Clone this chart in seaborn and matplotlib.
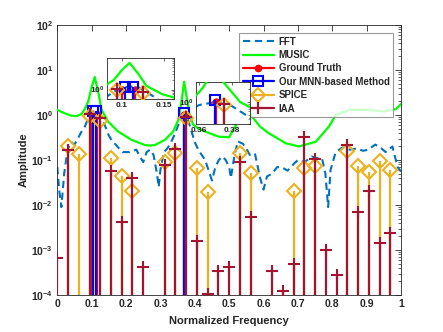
import numpy as np
import matplotlib
matplotlib.use('Agg')
import matplotlib.pyplot as plt
from matplotlib.lines import Line2D
from matplotlib.ticker import LogLocator, LogFormatterSciNotation, NullFormatter
import seaborn as sns

# FFT spectrum
fft_freq = [0.000, 0.006, 0.012, 0.020, 0.030, 0.040, 0.050, 0.060, 0.070, 0.080,
            0.090, 0.100, 0.110, 0.120, 0.130, 0.140, 0.150, 0.160, 0.170, 0.180,
            0.190, 0.200, 0.210, 0.220, 0.230, 0.240, 0.250, 0.260, 0.270, 0.280,
            0.290, 0.295, 0.300, 0.310, 0.320, 0.330, 0.340, 0.350, 0.360, 0.370,
            0.380, 0.390, 0.400, 0.410, 0.420, 0.430, 0.440, 0.450, 0.460, 0.470,
            0.480, 0.490, 0.500, 0.505, 0.515, 0.525, 0.540, 0.550, 0.560, 0.575,
            0.590, 0.600, 0.610, 0.625, 0.640, 0.655, 0.670, 0.690, 0.700, 0.720,
            0.740, 0.755, 0.770, 0.780, 0.788, 0.795, 0.810, 0.830, 0.850, 0.870,
            0.890, 0.905, 0.925, 0.940, 0.955, 0.975, 0.990, 1.000]
fft_amp = [0.07, 0.02, 0.009, 0.05, 0.17, 0.25, 0.22, 0.30, 0.42, 0.55,
           0.85, 1.15, 1.25, 1.15, 0.80, 0.55, 0.35, 0.26, 0.22, 0.18,
           0.15, 0.15, 0.15, 0.16, 0.17, 0.12, 0.09, 0.15, 0.17, 0.13,
           0.05, 0.025, 0.06, 0.15, 0.18, 0.24, 0.35, 0.55, 0.85, 1.0,
           0.80, 0.45, 0.25, 0.17, 0.13, 0.10, 0.06, 0.035, 0.07, 0.10,
           0.12, 0.10, 0.07, 0.04, 0.12, 0.26, 0.23, 0.18, 0.13, 0.14,
           0.04, 0.022, 0.043, 0.05, 0.07, 0.068, 0.058, 0.085, 0.10, 0.09,
           0.12, 0.11, 0.11, 0.05, 0.009, 0.06, 0.15, 0.19, 0.17, 0.18,
           0.16, 0.17, 0.22, 0.19, 0.15, 0.20, 0.07, 0.055]

# MUSIC pseudo-spectrum
music_freq = [0.000, 0.020, 0.040, 0.055, 0.070, 0.080, 0.090, 0.100, 0.109, 0.120,
              0.129, 0.148, 0.177, 0.216, 0.255, 0.270, 0.284, 0.313, 0.337, 0.352,
              0.362, 0.369, 0.376, 0.385, 0.395, 0.410, 0.440, 0.470, 0.500, 0.520,
              0.540, 0.550, 0.563, 0.590, 0.616, 0.665, 0.703, 0.752, 0.790, 0.810,
              0.850, 0.900, 0.950, 0.985, 1.000]
music_amp = [1.30, 1.10, 0.97, 0.94, 1.05, 1.35, 2.0, 4.2, 7.0, 3.0,
             1.3, 0.71, 0.43, 0.28, 0.215, 0.21, 0.215, 0.28, 0.43, 0.77,
             2.15, 5.5, 2.6, 1.0, 0.62, 0.50, 0.40, 0.33, 0.32, 0.6,
             1.6, 1.5, 1.0, 0.55, 0.39, 0.235, 0.20, 0.255, 0.55, 1.0,
             1.3, 1.3, 1.2, 1.35, 1.75]

# ground truth and MNN estimate
truth_freq = [0.100, 0.115, 0.370]
truth_amp = [1.0, 1.0, 1.0]
mnn_freq = [0.103, 0.113, 0.3695]
mnn_amp = [1.2, 1.2, 1.12]

# SPICE / IAA grid
grid_freq = [0.0, 0.03125, 0.0625, 0.09375, 0.125, 0.15625, 0.1875, 0.21875,
             0.25, 0.28125, 0.3125, 0.34375, 0.375, 0.40625, 0.4375, 0.46875,
             0.5, 0.53125, 0.5625, 0.59375, 0.625, 0.65625, 0.6875, 0.71875,
             0.75, 0.78125, 0.8125, 0.84375, 0.875, 0.90625, 0.9375, 0.96875]
spice_amp = [1e-6, 0.21, 0.135, 0.95, 0.75, 0.11, 0.044, 0.02,
             1e-6, 1e-6, 0.092, 0.145, 0.85, 0.065, 0.019, 1e-6,
             1e-6, 0.145, 0.051, 1e-6, 1e-6, 1e-6, 0.02, 0.065,
             0.074, 1e-6, 1e-6, 0.16, 0.074, 0.053, 0.094, 0.06]
iaa_amp = [6.6e-4, 0.17, 1e-6, 1.05, 0.85, 0.058, 0.0042, 0.039,
           4.1e-4, 1e-6, 0.077, 0.18, 0.9, 0.0016, 1.05e-4, 3.5e-4,
           4.3e-4, 0.092, 0.0055, 1e-6, 3.4e-4, 1.2e-4, 5e-4, 0.33,
           0.105, 1.0e-3, 2.8e-4, 0.22, 0.0069, 0.021, 0.0014, 0.0024]

x_ticks = [0, 0.1, 0.2, 0.3, 0.4, 0.5, 0.6, 0.7, 0.8, 0.9, 1]
x_ticklabels = ['0', '0.1', '0.2', '0.3', '0.4', '0.5', '0.6', '0.7', '0.8', '0.9', '1']
y_ticks = [1e-4, 1e-3, 1e-2, 1e-1, 1e0, 1e1, 1e2]

C_FFT = '#0072BD'
C_MUSIC = '#00FF00'
C_TRUTH = '#FF0000'
C_MNN = '#0000FF'
C_SPICE = '#EDB120'
C_IAA = '#A2142F'

sns.set_theme(style='white')
plt.rcParams['font.family'] = ['Liberation Sans', 'DejaVu Sans']
plt.rcParams['font.weight'] = 'bold'
plt.rcParams['mathtext.fontset'] = 'custom'
plt.rcParams['mathtext.rm'] = 'Liberation Sans:bold'
plt.rcParams['mathtext.bf'] = 'Liberation Sans:bold'
plt.rcParams['mathtext.default'] = 'bf'
plt.rcParams['axes.edgecolor'] = '#262626'
plt.rcParams['axes.linewidth'] = 0.6
plt.rcParams['xtick.color'] = '#262626'
plt.rcParams['ytick.color'] = '#262626'


def draw_stems(ax, freq, amp, color, marker, ms, mfc, z):
    ax.vlines(freq, 1e-8, amp, colors=color, lw=1.6, zorder=z)
    ax.plot(freq, amp, ls='none', marker=marker, ms=ms, mec=color, mfc=mfc,
            mew=1.5, zorder=z + 0.5)


def draw_all(ax):
    sns.lineplot(x=fft_freq, y=fft_amp, ax=ax, color=C_FFT, lw=1.5,
                 linestyle=(0, (3.5, 2.2)), zorder=2)
    sns.lineplot(x=music_freq, y=music_amp, ax=ax, color=C_MUSIC, lw=1.6, zorder=3)
    draw_stems(ax, truth_freq, truth_amp, C_TRUTH, 'o', 4.5, C_TRUTH, 4)
    draw_stems(ax, mnn_freq, mnn_amp, C_MNN, 's', 7, 'none', 5)
    draw_stems(ax, grid_freq, spice_amp, C_SPICE, 'D', 7.5, 'none', 6)
    draw_stems(ax, grid_freq, iaa_amp, C_IAA, '+', 9, C_IAA, 7)
    ax.set_yscale('log')
    ax.set_xlabel('')
    ax.set_ylabel('')
    ax.tick_params(which='both', direction='in', top=True, right=True)
    ax.yaxis.set_minor_locator(LogLocator(base=10, subs=np.arange(2, 10), numticks=20))
    ax.yaxis.set_minor_formatter(NullFormatter())


fig = plt.figure(figsize=(4.43, 3.32), dpi=100)
ax = fig.add_axes([0.1293, 0.1114, 0.7759, 0.8133])
draw_all(ax)
ax.set_xlim(0, 1)
ax.set_ylim(1e-4, 1e2)
ax.set_xticks(x_ticks)
ax.set_xticklabels(x_ticklabels)
ax.set_yticks(y_ticks)
ax.yaxis.set_major_formatter(LogFormatterSciNotation())
ax.tick_params(which='major', length=4, width=0.6, labelsize=7.5, pad=3)
ax.tick_params(which='minor', length=2, width=0.5)
ax.set_xlabel('Normalized Frequency', fontsize=8, fontweight='bold', labelpad=5)
ax.set_ylabel('Amplitude', fontsize=8, fontweight='bold', labelpad=2)

handles = [
    Line2D([], [], color=C_FFT, lw=1.5, linestyle=(0, (3.5, 2.2))),
    Line2D([], [], color=C_MUSIC, lw=1.6),
    Line2D([], [], color=C_TRUTH, lw=1.6, marker='o', ms=4.5, mfc=C_TRUTH, mec=C_TRUTH),
    Line2D([], [], color=C_MNN, lw=1.6, marker='s', ms=7, mfc='none', mec=C_MNN, mew=1.5),
    Line2D([], [], color=C_SPICE, lw=1.6, marker='D', ms=7.5, mfc='none', mec=C_SPICE, mew=1.5),
    Line2D([], [], color=C_IAA, lw=1.6, marker='+', ms=9, mec=C_IAA, mew=1.5),
]
labels = ['FFT', 'MUSIC', 'Ground Truth', 'Our MNN-based Method', 'SPICE', 'IAA']
leg = ax.legend(handles, labels, loc='upper right', bbox_to_anchor=(0.977, 0.970),
                borderaxespad=0, frameon=True, fancybox=False,
                handlelength=3.2, labelspacing=0.35, borderpad=0.35,
                handletextpad=0.5, prop={'weight': 'bold', 'size': 7})
leg.get_frame().set_edgecolor('#808080')
leg.get_frame().set_linewidth(0.8)
leg.set_zorder(20)

# zoomed insets
ins1 = fig.add_axes([0.2415, 0.7018, 0.1512, 0.1235])
draw_all(ins1)
ins1.set_xlim(0.082, 0.162)
ins1.set_ylim(0.5, 10)
ins1.set_xticks([0.1, 0.15])
ins1.set_xticklabels(['0.1', '0.15'])
ins1.set_yticks([1])
ins1.yaxis.set_major_formatter(LogFormatterSciNotation())
ins1.tick_params(which='major', length=2.5, width=0.5, labelsize=6, pad=2)
ins1.tick_params(which='minor', length=1.5, width=0.4)
ins1.set_facecolor('white')
ins1.set_zorder(10)

ins2 = fig.add_axes([0.4424, 0.6265, 0.1219, 0.1265])
draw_all(ins2)
ins2.set_xlim(0.358, 0.391)
ins2.set_ylim(0.3, 3)
ins2.set_xticks([0.36, 0.38])
ins2.set_xticklabels(['0.36', '0.38'])
ins2.set_yticks([1])
ins2.yaxis.set_major_formatter(LogFormatterSciNotation())
ins2.tick_params(which='major', length=2.5, width=0.5, labelsize=6, pad=2)
ins2.tick_params(which='minor', length=1.5, width=0.4)
ins2.set_facecolor('white')
ins2.set_zorder(10)

fig.savefig('out.png', dpi=100)
